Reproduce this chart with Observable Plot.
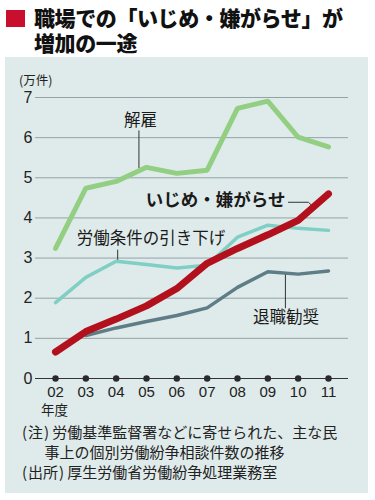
<!DOCTYPE html>
<html><head><meta charset="utf-8">
<script src="https://cdn.jsdelivr.net/npm/d3@7"></script>
<script src="https://cdn.jsdelivr.net/npm/@observablehq/plot@0.6"></script>
<style>
body{margin:0;width:375px;height:500px;background:#fff;font-family:"Liberation Sans","Noto Sans CJK JP",sans-serif;position:relative;overflow:hidden}
#sq{position:absolute;left:6px;top:10px;width:19px;height:17px;background:#c8102e}
.title{position:absolute;left:34px;font-family:"Noto Sans CJK JP";font-weight:900;font-size:21px;line-height:21px;height:21px;color:#111;letter-spacing:-0.4px;white-space:nowrap}
#t1{top:7px}
#t2{top:32px}
#panel{position:absolute;left:5px;top:57px;width:363px;height:436px;background:#dfeaea}
#chart{position:absolute;left:0;top:0}
#unit{position:absolute;left:14px;top:15px;font-size:12.5px;line-height:15px;color:#222;font-family:"Noto Sans CJK JP"}
#nendo{position:absolute;left:36px;top:345px;font-size:13.5px;line-height:14px;color:#222;font-family:"Noto Sans CJK JP"}
#note{position:absolute;left:17px;top:365px;font-size:15px;line-height:20px;color:#222;font-family:"Noto Sans CJK JP"}
#note .l{letter-spacing:1px}
#note .r{margin-left:1px;letter-spacing:3px}
</style></head>
<body>
<div id="sq"></div>
<div class="title" id="t1">職場での「いじめ・嫌がらせ」が</div>
<div class="title" id="t2">増加の一途</div>
<div id="panel">
  <div id="chart"></div>
  <div id="unit">(万件)</div>
  <div id="nendo">年度</div>
  <div id="note"><span class="l">(</span>注<span class="r">)</span>労働基準監督署などに寄せられた、主な民<br>&emsp;&ensp;事上の個別労働紛争相談件数の推移<br><span class="l">(</span>出所<span class="r">)</span>厚生労働省労働紛争処理業務室</div>
</div>
<script>
const years = [2002,2003,2004,2005,2006,2007,2008,2009,2010,2011];
const dismissal   = [3.24,4.74,4.91,5.26,5.11,5.19,6.73,6.91,6.01,5.77];
const bullying    = [0.66,1.17,1.48,1.81,2.24,2.87,3.24,3.58,3.94,4.60];
const conditions  = [1.89,2.52,2.92,2.84,2.75,2.82,3.52,3.82,3.74,3.69];
const resignation = [null,1.07,1.26,1.42,1.57,1.76,2.27,2.66,2.60,2.68];
const yTicks = [0,1,2,3,4,5,6,7];

const series = [
  {name:"解雇", values:dismissal, color:"#92cf83", width:5},
  {name:"労働条件の引き下げ", values:conditions, color:"#80cfc5", width:3.5},
  {name:"退職勧奨", values:resignation, color:"#5e7d86", width:3.5},
  {name:"いじめ・嫌がらせ", values:bullying, color:"#b3101d", width:7}
];
const toRows = s => years.map((y,i)=>({year:y, value:s.values[i]})).filter(d=>d.value!=null);

// annotation labels (data-space anchors) and leader lines
const labels = [
  {text:"解雇", year:2004.8, value:6.41, anchor:"middle", weight:"normal", size:16.5},
  {text:"労働条件の引き下げ", year:2002.7, value:3.47, anchor:"start", weight:"normal", size:16.5},
  {text:"いじめ・嫌がらせ", year:2009.58, value:4.44, anchor:"end", weight:"bold", size:17.5},
  {text:"退職勧奨", year:2009.6, value:1.52, anchor:"middle", weight:"normal", size:16.5}
];
const leaders = [
  {id:"a", pts:[[2004.75,6.17],[2004.75,5.25]]},
  {id:"b", pts:[[2004.05,3.2],[2004.05,2.93]]},
  {id:"c", pts:[[2009.68,4.39],[2010.34,4.39],[2010.5,4.27]]},
  {id:"d", pts:[[2009.58,1.76],[2009.58,2.6]]}
];
const leaderRows = leaders.flatMap(l=>l.pts.map(p=>({id:l.id, year:p[0], value:p[1]})));

const marks = [
  Plot.gridY(yTicks.filter(d=>d>0), {stroke:"#93a3a5", strokeOpacity:1, strokeWidth:1}),
  Plot.ruleY([0], {stroke:"#333", strokeWidth:1.2}),
  Plot.axisY(yTicks, {tickSize:0, tickPadding:3, fontSize:16, fill:"#222", label:null, fontFamily:"Liberation Sans"}),
  Plot.axisX(years, {tickSize:0, tickPadding:8, fontSize:15, fill:"#222", label:null, tickFormat:d=>String(d).slice(2), fontFamily:"Liberation Sans"}),
  Plot.dot(years, {x:d=>d, y:0, r:3.2, fill:"#2a2a2a"}),
  Plot.line(leaderRows, {x:"year", y:"value", z:"id", stroke:"#333", strokeWidth:1}),
];
for (const s of series) {
  marks.push(Plot.line(toRows(s), {x:"year", y:"value", stroke:s.color, strokeWidth:s.width, strokeLinejoin:"miter", strokeLinecap:"round"}));
}
for (const l of labels) {
  marks.push(Plot.text([l], {x:"year", y:"value", text:"text", textAnchor:l.anchor, fontSize:l.size, fontWeight:l.weight, fill:"#1a1a1a", fontFamily:"Noto Sans CJK JP"}));
}

const chart = Plot.plot({
  width:363, height:365,
  marginLeft:30, marginRight:20, marginTop:40, marginBottom:44,
  x:{domain:[2001.34, 2011.66], axis:null},
  y:{domain:[0,7], axis:null},
  style:{background:"transparent", overflow:"visible"},
  marks
});
document.getElementById("chart").appendChild(chart);
</script>
</body></html>
